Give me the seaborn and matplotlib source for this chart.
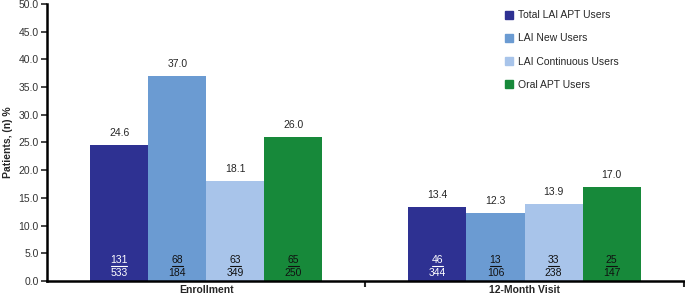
import pandas as pd
import matplotlib
matplotlib.use('Agg')
import matplotlib.pyplot as plt
import seaborn as sns

# Chart data
visits = ['Enrollment', '12-Month Visit']
groups = ['Total LAI APT Users', 'LAI New Users', 'LAI Continuous Users', 'Oral APT Users']
pct_enrollment = [24.6, 37.0, 18.1, 26.0]
pct_month12 = [13.4, 12.3, 13.9, 17.0]
n_enrollment = [131, 68, 63, 65]
n_month12 = [46, 13, 33, 25]
total_enrollment = [533, 184, 349, 250]
total_month12 = [344, 106, 238, 147]

colors = ['#2E3192', '#6B9BD2', '#A8C4EA', '#17893A']

rows = []
for v, pcts, ns, tots in [(visits[0], pct_enrollment, n_enrollment, total_enrollment),
                          (visits[1], pct_month12, n_month12, total_month12)]:
    for g, p, n, t in zip(groups, pcts, ns, tots):
        rows.append({'visit': v, 'group': g, 'pct': p, 'n': n, 'total': t})
df = pd.DataFrame(rows)

sns.set_style('white')
plt.rcParams['font.family'] = ['Liberation Sans', 'DejaVu Sans']
plt.rcParams['font.size'] = 7.5

fig = plt.figure(figsize=(6.85, 2.98), dpi=100)
ax = fig.add_axes([0.069, 0.057, 0.929, 0.93])

sns.barplot(data=df, x='visit', y='pct', hue='group', order=visits, hue_order=groups,
            palette=colors, width=0.73, saturation=1, ax=ax, linewidth=0, legend=False)

# labels on bars: percentage on top, n / total fraction at the base
for i, g in enumerate(groups):
    cont = ax.containers[i]
    sub = df[df['group'] == g].set_index('visit').loc[visits]
    for bar, (_, r) in zip(cont, sub.iterrows()):
        cx = bar.get_x() + bar.get_width() / 2
        ax.annotate(f"{r['pct']:.1f}", (cx, bar.get_height()), xytext=(0, 5),
                    textcoords='offset points', ha='center', va='bottom', fontsize=7.5)
        tc = 'white' if i == 0 else '#111111'
        ax.text(cx, 3.8, str(r['n']), ha='center', va='center', color=tc, fontsize=7.5)
        ax.text(cx, 1.5, str(r['total']), ha='center', va='center', color=tc, fontsize=7.5)
        hw = 0.0085 * len(str(r['n']))
        ax.plot([cx - hw, cx + hw], [2.75, 2.75], color=tc, lw=0.8)

ax.set_ylim(0, 50)
ax.set_xlim(-0.5, 1.5)
ax.set_yticks([x * 5 for x in range(11)])
ax.set_yticklabels([f'{x * 5:.1f}' for x in range(11)], color='#333333')
ax.set_xticks([0.5, 1.5])
ax.set_xticklabels([])
ax.set_xticks([0, 1], minor=True)
ax.set_xticklabels(visits, minor=True, fontweight='bold')
ax.tick_params(axis='x', which='minor', length=0, pad=3)
ax.tick_params(axis='x', which='major', length=4, width=1.5, direction='out', bottom=True)
ax.tick_params(axis='y', length=4, width=1.2, direction='out', left=True, pad=2)
ax.set_xlabel('')
ax.set_ylabel('Patients, (n) %', fontweight='bold', labelpad=4)

for s in ['top', 'right']:
    ax.spines[s].set_visible(False)
ax.spines['left'].set_linewidth(1.8)
ax.spines['bottom'].set_linewidth(1.8)
ax.spines['left'].set_color('black')
ax.spines['bottom'].set_color('black')

handles = [plt.Rectangle((0, 0), 1, 1, color=c) for c in colors]
ax.legend(handles, groups, loc='upper left', bbox_to_anchor=(0.704, 1.01), frameon=False,
          handlelength=0.8, handleheight=0.8, handletextpad=0.5, labelspacing=1.25,
          fontsize=7.5)

fig.savefig('out.png', dpi=100)
